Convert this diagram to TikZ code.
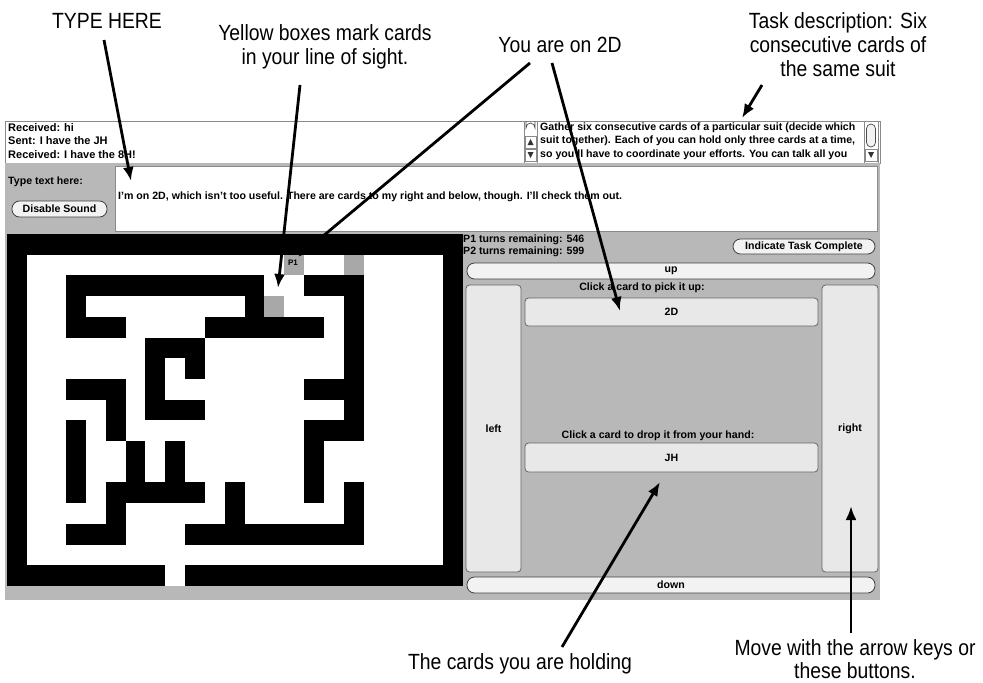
\documentclass[tikz,border=0pt]{standalone}
\usepackage{fontspec}
\setmainfont{Liberation Sans}
\newfontfamily\annot[FakeStretch=0.88]{Liberation Sans}
\usetikzlibrary{arrows.meta}
\definecolor{panel}{HTML}{B8B8B8}
\definecolor{btnfill}{HTML}{E8E8E8}
\definecolor{pillfill}{HTML}{F2F2F2}
\definecolor{seen}{HTML}{A8A8A8}
\definecolor{frame}{HTML}{8A8A8A}
\begin{document}
\begin{tikzpicture}[x=1pt,y=-1pt,
 ann/.style={font=\annot\fontsize{22}{23}\selectfont, align=center, inner sep=0pt},
 ui/.style={font=\bfseries\fontsize{10.6}{12}\selectfont, inner sep=0pt},
 pillbtn/.style={draw=black!75, line width=0.8pt, fill=pillfill, rounded corners=7.5pt, inner sep=0pt, font=\bfseries\fontsize{10.6}{12}\selectfont},
 cardbtn/.style={draw=black!60, line width=0.8pt, fill=btnfill, rounded corners=3.5pt, inner sep=0pt, font=\bfseries\fontsize{10.6}{12}\selectfont},
 arr/.style={line width=2.8pt, -{Latex[length=14pt,width=11pt]}},
]
\useasboundingbox (0,0) rectangle (983,683);
\fill[white] (0,0) rectangle (983,683);

% chat / task strip
\draw[frame, fill=white] (5,121) rectangle (880,163);
\node[ui, font=\bfseries\fontsize{11}{12}\selectfont, anchor=west] (r1) at (8,128) {Received: hi};
\node[ui, font=\bfseries\fontsize{11}{12}\selectfont, anchor=west] (r2) at (8,141) {Sent: I have the JH};
\node[ui, font=\bfseries\fontsize{11}{12}\selectfont, anchor=west] (r3) at (8,155) {Received: I have the 8H!};
\node[ui, anchor=west] (t1) at (540,128) {Gather six consecutive cards of a particular suit (decide which};
\node[ui, anchor=west] (t2) at (540,141) {suit together).  Each of you can hold only three cards at a time,};
\node[ui, anchor=west] (t3) at (540,155) {so you'll have to coordinate your efforts.  You can talk all you};
% left scrollbar of task box
\draw[frame, fill=white] (524,121) rectangle (537,163);
\draw[black!70, line width=0.7pt] (526,121) -- (526,128) arc (180:360:4.5 and 5) -- (535,121);
\draw[frame] (525,136) rectangle (536,148);
\fill[black!80] (527.5,145) -- (533.5,145) -- (530.5,139) -- cycle;
\draw[frame] (525,149) rectangle (536,161);
\fill[black!80] (527.5,152) -- (533.5,152) -- (530.5,158) -- cycle;
% right scrollbar
\draw[frame, fill=white] (864,121) rectangle (878,163);
\draw[black!70, line width=0.7pt, fill=pillfill, rounded corners=4.5pt] (866.5,124) rectangle (875.5,147);
\draw[frame] (865,149) rectangle (877,161);
\fill[black!80] (868,152) -- (874,152) -- (871,158) -- cycle;

% main gray panel
\fill[panel] (5,163) rectangle (880,600);
\draw[frame, fill=white] (115,166) rectangle (877,231);
\node[ui, anchor=west] (typelbl) at (8,182) {Type text here:};
\node[pillbtn, minimum width=95pt, minimum height=16pt] (disable) at (59.5,209) {Disable Sound};
\node[ui, anchor=west] (msg) at (118,197) {I'm on 2D, which isn't too useful. There are cards to my right and below, though. I'll check them out.};

% maze
\def\mzx{6.7}\def\mzy{234}\def\mzw{19.826}\def\mzh{20.706}
\fill[white] (\mzx,\mzy) rectangle ({\mzx+23*\mzw},{\mzy+17*\mzh});
\foreach \a/\b/\c/\d in {0/0/23/1, 0/0/1/17, 22/0/23/17, 0/16/8/17, 9/16/23/17,
  3/2/13/3, 15/2/18/3, 17/2/18/10, 3/2/4/5, 12/3/13/4, 10/4/16/5, 3/4/6/5,
  7/5/10/6, 7/5/8/9, 9/5/10/7, 7/8/10/9, 3/7/6/8, 5/7/6/10, 15/7/18/8,
  3/9/4/13, 15/9/18/10, 15/9/16/13, 6/10/7/13, 8/10/9/13, 5/12/10/13,
  5/12/6/15, 11/12/12/14, 17/12/18/15, 3/14/6/15, 9/14/18/15}
  \fill[black] ({\mzx+\a*\mzw},{\mzy+\b*\mzh}) rectangle ({\mzx+\c*\mzw},{\mzy+\d*\mzh});
\foreach \a/\b in {14/1, 17/1, 13/3}
  \fill[seen] ({\mzx+\a*\mzw},{\mzy+\b*\mzh}) rectangle ({\mzx+(\a+1)*\mzw},{\mzy+(\b+1)*\mzh});
\node[font=\bfseries\fontsize{8}{9}\selectfont, inner sep=0pt] (p1) at (293,263) {P1};

% right control panel
\node[ui, anchor=west] (p1turns) at (463,240) {P1 turns remaining: 546};
\node[ui, anchor=west] (p2turns) at (463,252) {P2 turns remaining: 599};
\node[pillbtn, minimum width=142pt, minimum height=15pt] (complete) at (804,246.5) {Indicate Task Complete};
\node[pillbtn, minimum width=408pt, minimum height=16pt] (up) at (671,271) {up};
\node[pillbtn, minimum width=408pt, minimum height=16pt] (down) at (671,585) {down};
\node[cardbtn, minimum width=55pt, minimum height=287pt] (left) at (493.5,428.5) {left};
\node[cardbtn, minimum width=56pt, minimum height=287pt] (right) at (850,428.5) {right};
\node[ui] (picklbl) at (642,288) {Click a card to pick it up:};
\node[cardbtn, minimum width=293pt, minimum height=28pt] (card2d) at (671.5,312) {2D};
\node[ui] (droplbl) at (658,436) {Click a card to drop it from your hand:};
\node[cardbtn, minimum width=293pt, minimum height=29pt] (cardjh) at (671.5,457.5) {JH};

% annotations
\node[ann] (typehere) at (107,21) {TYPE HERE};
\node[ann] (yellow) at (325,47) {Yellow boxes mark cards\\[1pt]in your line of sight.};
\node[ann] (on2d) at (560,45) {You are on 2D};
\node[ann] (taskd) at (838,45) {Task description: Six\\[1pt]consecutive cards of\\[1pt]the same suit};
\node[ann] (holding) at (520,664) {The cards you are holding};
\node[ann] (move) at (855,659) {Move with the arrow keys or\\these buttons.};

\coordinate (typeS) at (104,40);   \coordinate (typeE) at (131,181);
\coordinate (yelS) at (300,85);    \coordinate (yelE) at (278,288);
\coordinate (onaS) at (530,63);    \coordinate (onaE) at (298,257);
\coordinate (onbS) at (552,63);    \coordinate (onbE) at (620,311);
\coordinate (taskS) at (762,85);   \coordinate (taskE) at (742,118);
\coordinate (holdS) at (562,647);  \coordinate (holdE) at (660,482);
\coordinate (moveS) at (851,633);  \coordinate (moveE) at (851,506);
\draw[arr] (typeS) -- (typeE);
\draw[arr] (yelS) -- (yelE);
\draw[arr] (onaS) -- (onaE);
\draw[arr] (onbS) -- (onbE);
\draw[arr] (taskS) -- (taskE);
\draw[arr] (holdS) -- (holdE);
\draw[arr] (moveS) -- (moveE);
\end{tikzpicture}
\end{document}
